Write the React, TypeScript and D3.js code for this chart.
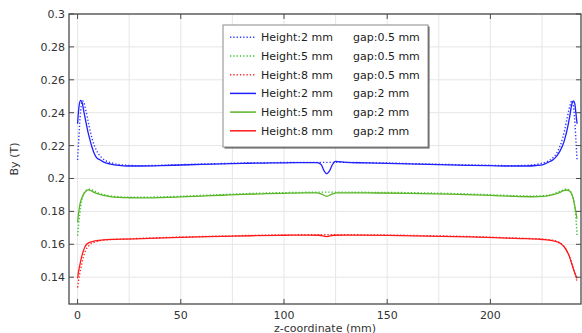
import React from "react";
import * as d3 from "d3";

type P = [number, number];

// Height 2 mm, gap 2 mm
const blueSolid: P[] = [[0,0.2333],[0.4,0.2400],[0.9,0.2455],[1.5,0.2475],[2.2,0.2462],[3,0.2410],[4,0.2345],[5,0.2285],[6,0.2235],[7,0.2190],[8,0.2155],[9,0.2130],[11,0.2112],[13,0.2098],[16,0.2088],[20,0.2080],[24,0.2076],[30,0.2076],[40,0.2078],[50,0.2082],[60,0.2086],[70,0.2089],[80,0.2092],[90,0.2094],[100,0.2095],[110,0.2097],[116,0.2097],[118,0.2085],[119.5,0.2045],[120.7,0.2030],[122,0.2045],[123.5,0.2085],[125,0.2104],[130,0.2098],[140,0.2095],[150,0.2092],[160,0.2089],[170,0.2086],[180,0.2083],[190,0.2080],[200,0.2078],[210,0.2076],[218,0.2076],[222,0.2079],[225.6,0.2085],[228,0.2098],[230.5,0.2115],[232.2,0.2138],[233.7,0.2166],[235,0.2200],[236.2,0.2247],[237.7,0.2328],[238.6,0.2390],[239.4,0.2449],[240.2,0.2472],[240.9,0.2455],[241.4,0.2400],[242,0.2333]];
// Height 2 mm, gap 0.5 mm
const blueDotted: P[] = [[0,0.2112],[0.5,0.222],[1,0.233],[1.5,0.241],[2,0.2458],[2.5,0.2472],[3,0.2462],[4,0.2415],[5,0.2355],[6,0.2295],[7,0.2245],[8,0.2205],[9,0.2175],[10,0.2152],[12,0.2123],[14,0.2106],[17,0.2093],[20,0.2085],[25,0.2080],[30,0.2078],[40,0.2080],[50,0.2084],[60,0.2088],[70,0.2091],[80,0.2094],[90,0.2096],[100,0.2097],[110,0.2098],[120,0.2098],[130,0.2098],[140,0.2096],[150,0.2094],[160,0.2091],[170,0.2088],[180,0.2085],[190,0.2082],[200,0.2080],[210,0.2078],[217,0.2080],[222,0.2085],[225,0.2093],[228,0.2106],[230,0.2123],[232,0.2152],[233,0.2175],[234,0.2205],[235,0.2245],[236,0.2295],[237,0.2355],[238,0.2415],[239,0.2462],[239.5,0.2472],[240,0.2458],[240.5,0.241],[241,0.233],[241.5,0.222],[242,0.2112]];
// Height 5 mm, gap 2 mm
const greenSolid: P[] = [[0,0.1733],[0.5,0.1790],[1.2,0.1845],[2,0.1880],[2.8,0.1902],[4,0.1922],[5.2,0.1931],[6.5,0.1926],[8,0.1916],[10,0.1906],[12.5,0.1897],[15.7,0.1890],[20,0.1885],[25,0.1883],[30,0.1882],[40,0.1884],[50,0.1888],[60,0.1893],[70,0.1898],[80,0.1903],[90,0.1907],[100,0.1910],[110,0.1912],[116,0.1912],[118.5,0.1903],[120.7,0.1892],[123,0.1903],[125.5,0.1912],[140,0.1912],[160,0.1910],[180,0.1905],[200,0.1897],[210,0.1892],[220,0.1889],[225.6,0.1891],[230,0.1900],[233.7,0.1916],[235.5,0.1926],[237,0.1930],[238.3,0.1924],[239.4,0.1906],[240.3,0.1870],[241,0.1825],[242,0.1755]];
// Height 5 mm, gap 0.5 mm
const greenDotted: P[] = [[0,0.1652],[0.5,0.172],[1,0.178],[1.5,0.1828],[2,0.1865],[3,0.1905],[4,0.1925],[5,0.1934],[6,0.1935],[7,0.1931],[8,0.1924],[10,0.1912],[13,0.1901],[16,0.1894],[20,0.1889],[25,0.1886],[30,0.1886],[40,0.1888],[50,0.1892],[60,0.1897],[70,0.1902],[80,0.1907],[90,0.1911],[100,0.1914],[110,0.1916],[120,0.1917],[130,0.1917],[140,0.1916],[160,0.1914],[180,0.1909],[200,0.1901],[210,0.1896],[220,0.1893],[225,0.1895],[230,0.1904],[233,0.1918],[235,0.1929],[236.5,0.1935],[237.5,0.1934],[238.5,0.1925],[239.5,0.1905],[240.3,0.1865],[241,0.1815],[241.5,0.175],[242,0.1652]];
// Height 8 mm, gap 2 mm
const redSolid: P[] = [[0,0.1393],[0.5,0.1435],[1.2,0.1480],[2,0.1525],[2.8,0.1560],[3.6,0.1585],[4.4,0.1600],[5.5,0.1610],[7.6,0.1618],[10,0.1623],[12.5,0.1627],[18,0.1630],[24,0.1632],[35,0.1636],[50,0.1642],[70,0.1648],[84,0.1652],[100,0.1655],[112,0.1656],[117,0.1655],[120.7,0.1647],[124,0.1655],[130,0.1656],[150,0.1654],[170,0.1650],[190,0.1645],[205,0.1639],[215,0.1635],[225,0.1629],[230,0.1622],[232.5,0.1614],[234,0.1605],[235.5,0.1588],[237,0.1560],[238.3,0.1525],[239.4,0.1482],[240.5,0.1440],[242,0.1392]];
// Height 8 mm, gap 0.5 mm
const redDotted: P[] = [[0,0.1337],[0.5,0.138],[1.2,0.143],[2,0.148],[2.8,0.152],[4,0.1565],[5,0.1585],[6.5,0.1603],[8,0.1612],[10,0.1620],[13,0.1626],[18,0.1630],[24,0.1633],[35,0.1638],[50,0.1644],[70,0.1650],[84,0.1654],[100,0.1657],[120,0.1658],[130,0.1658],[150,0.1656],[170,0.1652],[190,0.1647],[205,0.1641],[215,0.1637],[225,0.1631],[230,0.1625],[233,0.1613],[235,0.1596],[236.5,0.1572],[238,0.1535],[239.4,0.1488],[240.5,0.1440],[241.5,0.1395],[242,0.1370]];

const xTicks = [0, 50, 100, 150, 200];
const xGrid = [0, 25, 50, 75, 100, 125, 150, 175, 200, 225];
const yTicks = [0.14, 0.16, 0.18, 0.2, 0.22, 0.24, 0.26, 0.28, 0.3];
const yTickLabels = ["0.14", "0.16", "0.18", "0.2", "0.22", "0.24", "0.26", "0.28", "0.3"];

const heightLabels = ["Height:2 mm", "Height:5 mm", "Height:8 mm", "Height:2 mm", "Height:5 mm", "Height:8 mm"];
const gapLabels = ["gap:0.5 mm", "gap:0.5 mm", "gap:0.5 mm", "gap:2 mm", "gap:2 mm", "gap:2 mm"];

const series = [
  { data: blueDotted, color: "#2f3cff", dotted: true },
  { data: greenDotted, color: "#34c234", dotted: true },
  { data: redDotted, color: "#ff2a2a", dotted: true },
  { data: blueSolid, color: "#1f1fff", dotted: false },
  { data: greenSolid, color: "#5cb526", dotted: false },
  { data: redSolid, color: "#ff1a1a", dotted: false },
];

const W = 582, H = 333;
const L = 69, R = 581, T = 14, B = 304;
const FONT = "DejaVu Sans, sans-serif";

export default function App() {
  const x = d3.scaleLinear().domain([-4.15, 243.9]).range([L, R]);
  const y = d3.scaleLinear().domain([0.1237, 0.3]).range([B, T]);
  const line = d3.line<P>().x(d => x(d[0])).y(d => y(d[1])).curve(d3.curveMonotoneX);

  const legX = 223, legY = 25, legW = 205, legH = 122, rowH = 18.7;

  return (
    <svg width={W} height={H} style={{ position: "absolute", left: 0, top: 0, background: "#fff" }} fontFamily={FONT}>
      <defs>
        <clipPath id="plot"><rect x={L} y={T} width={R - L} height={B - T} /></clipPath>
      </defs>
      {xGrid.map(v => (
        <line key={"gx" + v} x1={x(v)} x2={x(v)} y1={T} y2={B} stroke="#e6e6e6" strokeWidth={1} />
      ))}
      {yTicks.map(v => (
        <line key={"gy" + v} x1={L} x2={R} y1={y(v)} y2={y(v)} stroke="#e6e6e6" strokeWidth={1} />
      ))}
      <g clipPath="url(#plot)">
        {series.map((s, i) => (
          <path key={i} d={line(s.data) || ""} fill="none" stroke={s.color}
            strokeWidth={s.dotted ? 1.4 : 1.3} strokeDasharray={s.dotted ? "1.3,2" : undefined} />
        ))}
      </g>
      <rect x={L} y={T} width={R - L} height={B - T} fill="none" stroke="#4a4a4a" strokeWidth={1.3} />
      {xTicks.map(v => (
        <g key={"xt" + v}>
          <line x1={x(v)} x2={x(v)} y1={B} y2={B - 5} stroke="#4a4a4a" strokeWidth={1} />
          <line x1={x(v)} x2={x(v)} y1={T} y2={T + 5} stroke="#4a4a4a" strokeWidth={1} />
          <text x={x(v)} y={318.5} textAnchor="middle" fontSize={11} fill="#333">{v}</text>
        </g>
      ))}
      {yTicks.map((v, i) => (
        <g key={"yt" + v}>
          <line x1={L} x2={L + 5} y1={y(v)} y2={y(v)} stroke="#4a4a4a" strokeWidth={1} />
          <line x1={R} x2={R - 5} y1={y(v)} y2={y(v)} stroke="#4a4a4a" strokeWidth={1} />
          <text x={65} y={y(v) + 4} textAnchor="end" fontSize={11} fill="#333">{yTickLabels[i]}</text>
        </g>
      ))}
      <text x={(L + R) / 2} y={331.5} textAnchor="middle" fontSize={11} fill="#333">
        z-coordinate (mm)
      </text>
      <text transform={`translate(18,${(T + B) / 2}) rotate(-90)`} textAnchor="middle" fontSize={11} fill="#333">By (T)</text>
      <rect x={legX + 1.5} y={legY + 1.5} width={legW} height={legH} fill="#5a5a5a" />
      <rect x={legX} y={legY} width={legW} height={legH} fill="#fff" stroke="#8a8a8a" strokeWidth={1} />
      {series.map((s, i) => {
        const cy = legY + 12.3 + i * rowH;
        return (
          <g key={"lg" + i}>
            <line x1={230} x2={256} y1={cy} y2={cy} stroke={s.color} strokeWidth={s.dotted ? 1.4 : 1.5}
              strokeDasharray={s.dotted ? "1.3,2" : undefined} />
            <text x={261} y={cy + 4} fontSize={11} fill="#222">{heightLabels[i]}</text>
            <text x={353} y={cy + 4} fontSize={11} fill="#222">{gapLabels[i]}</text>
          </g>
        );
      })}
    </svg>
  );
}
